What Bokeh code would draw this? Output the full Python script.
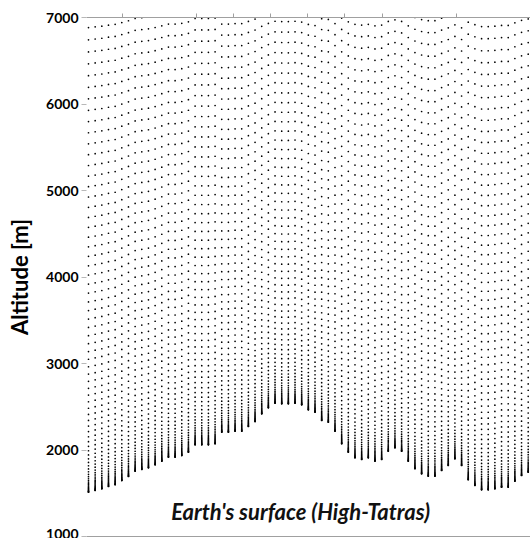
import numpy as np
from bokeh.plotting import figure
from bokeh.models import LinearAxis, FixedTicker, Range1d, Label, ColumnDataSource
from bokeh.embed import file_html
from bokeh.resources import INLINE

# Terrain height of every model column (m), west to east
surface_alt_m = [1512, 1532, 1551, 1578, 1598, 1647, 1694, 1755, 1775, 1794,
                 1829, 1871, 1917, 1917, 1936, 1975, 2060, 2060, 2060, 2072,
                 2206, 2206, 2217, 2217, 2272, 2329, 2418, 2488, 2541, 2534,
                 2534, 2541, 2522, 2465, 2437, 2341, 2321, 2217, 2072, 1975,
                 1910, 1890, 1910, 1871, 1890, 1986, 2025, 1986, 1871, 1783,
                 1725, 1697, 1697, 1763, 1821, 1898, 1821, 1656, 1590, 1540,
                 1540, 1551, 1570, 1570, 1640, 1705, 1744]

# Model level heights above ground (m) for a 1500 m surface
level_height_m = [0, 3, 7, 12, 18, 25, 33, 42, 52, 63, 75, 88, 102,
                  117, 135, 156, 180, 207, 237, 270, 306, 345, 387, 432, 480,
                  531, 585, 642, 702, 765, 831, 900, 972,
                  1047, 1124, 1203, 1284, 1367, 1452, 1539, 1628, 1719, 1812, 1907,
                  2004, 2103, 2203, 2305, 2409, 2514, 2621, 2730, 2840, 2952,
                  3066, 3181, 3298, 3417,
                  3537, 3659, 3782, 3907, 4033, 4161, 4290, 4421, 4553, 4687,
                  4822, 4959, 5097, 5237, 5378, 5521, 5665, 5811, 5958, 6107]

ref_surface_m = 1500
model_top_m = 11000
column_dx_km = 0.9
first_column_km = 0.35

x_ticks = [5, 15, 20, 25, 30, 35, 40, 50]
y_ticks = [1000, 2000, 3000, 4000, 5000, 6000, 7000]

zs = np.array(surface_alt_m, dtype=float)
eta = np.array(level_height_m, dtype=float) / (model_top_m - ref_surface_m)
col_x = first_column_km + column_dx_km * np.arange(len(zs))
X = np.repeat(col_x, len(eta))
Z = (zs[:, None] + (model_top_m - zs[:, None]) * eta[None, :]).ravel()
src = ColumnDataSource(dict(x=X, z=Z))

p = figure(width=530, height=538, output_backend="svg", toolbar_location=None,
           x_range=Range1d(0.08, 60.06), y_range=Range1d(1000, 7000),
           x_axis_location=None, y_axis_location="left",
           min_border_left=86, min_border_top=17, min_border_right=0, min_border_bottom=2)
p.grid.visible = False
p.outline_line_color = None
p.background_fill_color = "white"

p.scatter("x", "z", source=src, size=1.7, marker="circle", fill_color="black",
          line_color=None)

yax = p.yaxis[0]
yax.ticker = FixedTicker(ticks=y_ticks)
yax.axis_line_color = None
yax.major_tick_out = 5
yax.major_tick_in = 0
yax.minor_tick_line_color = None
yax.major_tick_line_color = "#b8b8b8"
yax.major_label_text_font = "Lato"
yax.major_label_text_font_style = "bold"
yax.major_label_text_font_size = "14px"
yax.major_label_text_color = "black"
yax.major_label_standoff = 3
yax.axis_label = "Altitude [m]"
yax.axis_label_text_font = "Lato"
yax.axis_label_text_font_style = "bold"
yax.axis_label_text_font_size = "22px"
yax.axis_label_text_color = "black"
yax.axis_label_standoff = 10

for loc, tin, tout in (("above", 0, 4), ("below", 0, 0)):
    ax = LinearAxis(ticker=FixedTicker(ticks=x_ticks))
    ax.major_label_overrides = {t: "" for t in x_ticks}
    ax.major_label_standoff = 0
    ax.major_tick_in = tin
    ax.major_tick_out = tout
    ax.minor_tick_line_color = None
    ax.axis_line_color = "#a0a0a0"
    ax.major_tick_line_color = "#a0a0a0"
    p.add_layout(ax, loc)

p.add_layout(Label(x=29, y=1290, text="Earth's surface (High-Tatras)",
                   text_font="Lato", text_font_style="bold italic",
                   text_font_size="22px", text_align="center",
                   text_baseline="alphabetic", text_color="#111111"))

open("out.html", "w").write(file_html(p, INLINE))
